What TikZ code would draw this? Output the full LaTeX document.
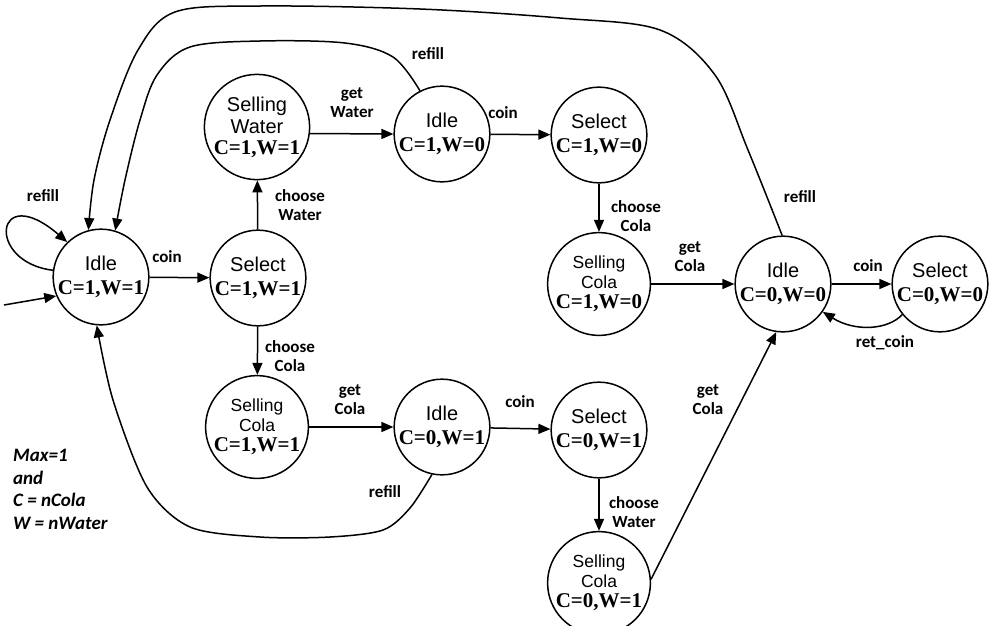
\documentclass[tikz,border=0pt]{standalone}
\usepackage{fontspec}
\setmainfont{Liberation Sans}
\newfontfamily\valfamily{Liberation Serif}
\newfontfamily\lblfamily{Carlito}
\usetikzlibrary{arrows.meta}
\newcommand\vals[1]{{\valfamily\bfseries\fontsize{21}{23}\selectfont #1}}
\tikzset{
  st/.style={circle, draw, line width=1.5pt, minimum size=93pt, inner sep=0pt,
    align=center, font=\fontsize{20}{22}\selectfont},
  stsmall/.style={st, font=\fontsize{17.5}{20}\selectfont},
  tr/.style={line width=1.5pt, -{Triangle[length=12pt,width=10pt]}},
  lbl/.style={font=\lblfamily\bfseries\fontsize{17}{19}\selectfont, align=center, inner sep=0pt},
  note/.style={font=\lblfamily\bfseries\itshape\fontsize{19}{22.5}\selectfont, align=left, inner sep=0pt, anchor=north west},
}
\begin{document}
\begin{tikzpicture}[x=1pt,y=-1pt]
\useasboundingbox (0,0) rectangle (995,625);
% states
\node[st] (I11) at (101,277) {Idle\\[2pt]\vals{C=1,W=1}};
\node[st] (S11) at (258,278) {Select\\[2pt]\vals{C=1,W=1}};
\node[st] (SW11) at (257,127) {Selling\\Water\\[-1pt]\vals{C=1,W=1}};
\node[st] (I10) at (442,134) {Idle\\[2pt]\vals{C=1,W=0}};
\node[st] (S10) at (599,135) {Select\\[2pt]\vals{C=1,W=0}};
\node[stsmall] (SC10) at (599,284) {Selling\\Cola\\[0pt]\vals{C=1,W=0}};
\node[st] (I00) at (783,284) {Idle\\[2pt]\vals{C=0,W=0}};
\node[st] (S00) at (940,284) {Select\\[2pt]\vals{C=0,W=0}};
\node[stsmall] (SC11) at (257,427) {Selling\\Cola\\[0pt]\vals{C=1,W=1}};
\node[st] (I01) at (442,427) {Idle\\[2pt]\vals{C=0,W=1}};
\node[st] (S01) at (599,430) {Select\\[2pt]\vals{C=0,W=1}};
\node[stsmall] (SC01) at (599,583) {Selling\\Cola\\[0pt]\vals{C=0,W=1}};
% initial
\coordinate (init) at (4,305);
\draw[tr] (init) -- (I11.203);
% self loop
\draw[tr] (I11.172) .. controls (-15,262) and (-5,180) .. (I11.134);
% straight transitions
\draw[tr] (I11) -- (S11);
\draw[tr] (S11) -- (SW11);
\draw[tr] (SW11.-7) -- (I10.west);
\draw[tr] (I10) -- (S10);
\draw[tr] (S10) -- (SC10);
\draw[tr] (SC10) -- (I00);
\draw[tr] (I00) -- (S00);
\draw[tr] (S11) -- (SC11);
\draw[tr] (SC11) -- (I01);
\draw[tr] (I01) -- (S01);
\draw[tr] (S01) -- (SC01);
\draw[tr] (SC01.4) -- (I00.262);
% ret_coin
\draw[tr] (S00.219) .. controls (888,330) and (855,332) .. (I00.-35);
% outer refill
\draw[tr] plot[smooth, tension=0.55] coordinates {(I00.91) (748,150) (715,75) (660,30) (560,18) (420,9) (260,6) (175,12) (138,50) (110,120) (94,180) (I11.105)};
% inner refill
\draw[tr] plot[smooth, tension=0.55] coordinates {(I10.117) (393,57) (345,43) (260,41) (190,47) (157,75) (140,120) (125,180) (I11.73)};
% bottom refill
\draw[tr] plot[smooth, tension=0.5] coordinates {(I01.258) (410,508) (383,530) (330,537) (260,537) (190,527) (147,487) (113,400) (I11.265)};
% labels
\node[lbl] (l1) at (43,196) {refill};
\node[lbl] (l2) at (167,257) {coin};
\node[lbl] (l3) at (300,205) {choose\\Water};
\node[lbl] (l4) at (352,103) {get\\Water};
\node[lbl] (l5) at (428,54) {refill};
\node[lbl] (l6) at (503,113) {coin};
\node[lbl] (l7) at (636,216) {choose\\Cola};
\node[lbl] (l8) at (690,257) {get\\Cola};
\node[lbl] (l9) at (800,197) {refill};
\node[lbl] (l10) at (868,266) {coin};
\node[lbl] (l11) at (885,343) {ret\_coin};
\node[lbl] (l12) at (290,356) {choose\\Cola};
\node[lbl] (l13) at (350,400) {get\\Cola};
\node[lbl] (l14) at (520,402) {coin};
\node[lbl] (l15) at (634,512) {choose\\Water};
\node[lbl] (l16) at (708,400) {get\\Cola};
\node[lbl] (l17) at (385,492) {refill};
\node[note] (nt) at (13,449) {Max=1\\and\\C = nCola\\W = nWater};
\end{tikzpicture}
\end{document}
